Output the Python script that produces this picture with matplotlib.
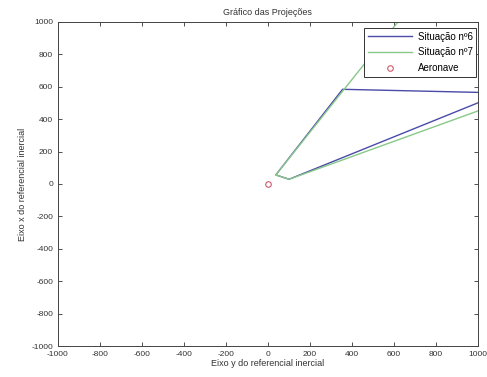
import matplotlib
matplotlib.use("Agg")
import matplotlib.pyplot as plt
import numpy as np

plt.rcParams['font.family'] = ['Liberation Sans', 'DejaVu Sans']
plt.rcParams['axes.unicode_minus'] = False

# Data
sit6_x = [1000, 356, 38, 101, 1000]
sit6_y = [565, 584, 56, 29, 500]
sit7_x = [620, 38, 101, 1000]
sit7_y = [1000, 56, 29, 450]
aero_x = [0]
aero_y = [0]
ticks = list(range(-1000, 1001, 200))

fig = plt.figure(figsize=(4.87, 3.77), dpi=100)
ax = fig.add_axes([0.119, 0.082, 0.862, 0.86])

ax.plot(sit6_x, sit6_y, color='#4a4aa8', lw=1.0, label='Situação nº6')
ax.plot(sit7_x, sit7_y, color='#88c888', lw=1.0, label='Situação nº7')
ax.plot(aero_x, aero_y, 'o', mfc='none', mec='#d05a6a', ms=4, mew=0.8, label='Aeronave')

ax.set_xlim(-1000, 1000)
ax.set_ylim(-1000, 1000)
ax.set_xticks(ticks)
ax.set_yticks(ticks)
ax.tick_params(direction='in', length=3, labelsize=6, width=0.6, top=True, right=True,
               colors='#333333')
for s in ax.spines.values():
    s.set_linewidth(0.7)
    s.set_color('#444444')

ax.set_title('Gráfico das Projeções', fontsize=6.5, pad=5, color='#333333')
ax.set_xlabel('Eixo y do referencial inercial', fontsize=6.5, labelpad=1, color='#333333')
ax.set_ylabel('Eixo x do referencial inercial', fontsize=6.5, labelpad=3, color='#333333')

leg = ax.legend(loc='upper right', fontsize=7, frameon=True, fancybox=False,
                edgecolor='#333333', framealpha=1, borderpad=0.4, labelspacing=0.6,
                handlelength=4.5, handletextpad=0.6, borderaxespad=0,
                bbox_to_anchor=(0.997, 0.982))
leg.get_frame().set_linewidth(0.7)

fig.savefig('out.png', dpi=100)
